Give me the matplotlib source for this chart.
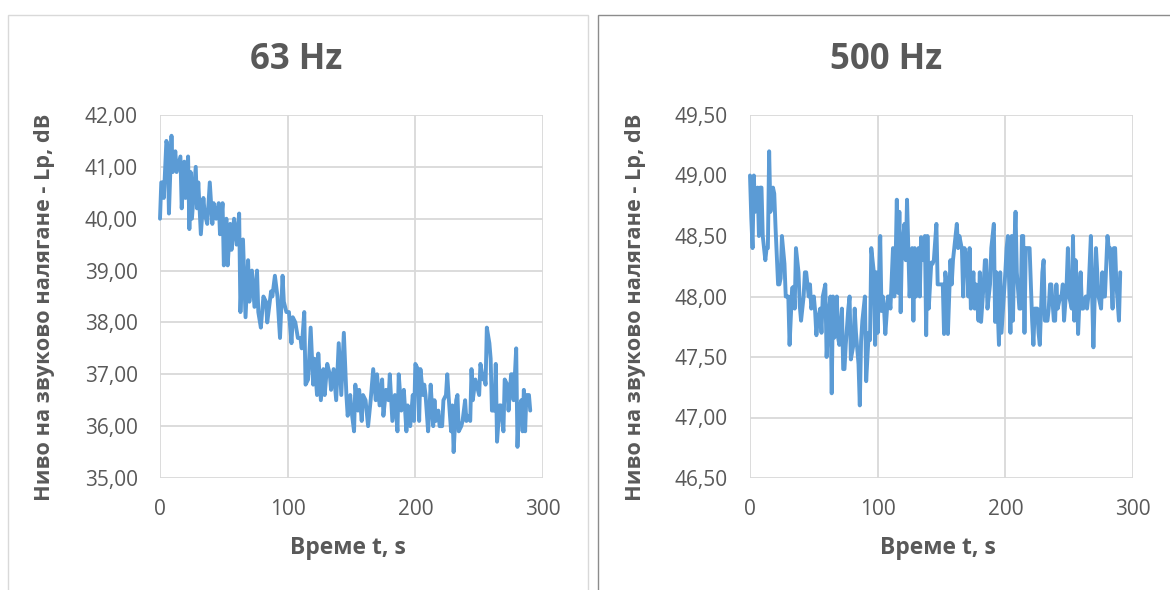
import matplotlib
matplotlib.use("Agg")
import matplotlib.pyplot as plt
from matplotlib.patches import Rectangle
from matplotlib.ticker import FuncFormatter

plt.rcParams['font.family'] = ['Open Sans', 'DejaVu Sans']

# 63 Hz series (time s, level dB)
t_63 = [0, 1, 2, 3, 5, 6, 7, 9, 10, 12, 13, 16, 17, 19, 20, 22, 23, 24, 25, 28,
        29, 30, 32, 34, 35, 37, 39, 41, 42, 44, 46, 47, 49, 50, 52, 53, 55, 56, 58, 60,
        62, 63, 65, 67, 69, 70, 72, 74, 76, 77, 79, 81, 83, 84, 87, 88, 90, 92, 94, 96,
        97, 99, 101, 103, 104, 106, 108, 110, 111, 113, 114, 116, 118, 120, 121, 123, 124, 126, 128, 129,
        131, 133, 134, 136, 138, 140, 142, 144, 146, 147, 149, 150, 152, 153, 155, 156, 158, 159, 161, 163,
        165, 167, 169, 170, 172, 174, 175, 177, 179, 180, 182, 184, 186, 187, 189, 191, 193, 194, 196, 198,
        199, 200, 202, 203, 204, 206, 207, 208, 210, 211, 212, 214, 215, 216, 218, 219, 221, 222, 224, 225,
        226, 228, 229, 230, 232, 233, 234, 236, 237, 239, 240, 241, 243, 244, 245, 247, 248, 250, 251, 253,
        254, 255, 256, 258, 259, 260, 262, 263, 264, 266, 267, 269, 270, 272, 273, 275, 276, 277, 279, 280,
        281, 283, 284, 285, 286, 287, 289, 290]
lp_63 = [40.0, 40.7, 40.7, 40.4, 41.5, 41.4, 40.1, 41.6, 40.9, 41.3, 40.9, 41.2, 40.2, 41.1, 40.4, 41.2, 39.8, 40.9, 40.0, 41.0,
         40.2, 40.7, 39.7, 40.4, 40.1, 39.9, 40.7, 39.9, 40.3, 40.0, 40.3, 39.7, 40.3, 39.1, 40.0, 39.1, 39.9, 39.4, 40.0, 39.5,
         40.1, 38.2, 39.6, 38.1, 39.2, 38.4, 39.0, 38.3, 39.0, 38.2, 37.9, 38.5, 38.4, 38.0, 38.6, 38.5, 38.9, 38.5, 37.7, 38.9,
         38.4, 38.2, 38.2, 37.6, 38.1, 38.0, 37.7, 37.7, 37.5, 38.2, 36.8, 36.9, 37.9, 36.8, 37.3, 36.6, 37.4, 36.5, 37.1, 36.6,
         37.2, 37.0, 36.7, 37.1, 36.5, 37.6, 36.6, 37.8, 36.6, 36.2, 36.6, 36.3, 35.9, 36.8, 36.3, 36.7, 36.1, 36.6, 36.5, 36.0,
         36.5, 37.1, 36.5, 37.0, 36.4, 36.9, 36.2, 36.7, 36.5, 37.0, 36.1, 36.6, 35.9, 37.0, 36.3, 36.7, 35.9, 36.4, 36.0, 36.6,
         36.1, 37.2, 37.1, 36.1, 37.1, 36.6, 36.8, 36.6, 35.9, 36.3, 36.8, 36.0, 36.5, 36.1, 36.3, 36.0, 36.0, 36.5, 36.6, 37.0,
         36.6, 35.9, 36.4, 35.5, 36.5, 36.6, 35.9, 36.0, 36.1, 36.5, 36.1, 36.2, 36.1, 37.1, 36.5, 36.9, 36.8, 36.6, 37.2, 36.9,
         37.0, 36.8, 37.9, 37.6, 37.3, 36.3, 36.3, 37.2, 35.7, 36.4, 36.4, 35.9, 36.9, 36.8, 36.3, 37.0, 37.0, 36.5, 37.5, 35.6,
         36.3, 36.5, 35.9, 36.7, 35.9, 36.6, 36.6, 36.3]

# 500 Hz series (time s, level dB)
t_500 = [0, 1, 2, 3, 4, 6, 7, 8, 9, 10, 12, 13, 14, 15, 16, 18, 19, 20, 22, 23,
         24, 25, 27, 28, 30, 31, 33, 34, 35, 36, 38, 39, 40, 42, 43, 44, 46, 47, 48, 50,
         51, 52, 53, 55, 56, 57, 59, 60, 62, 63, 64, 65, 66, 68, 69, 70, 72, 73, 74, 75,
         77, 78, 79, 81, 82, 83, 85, 86, 87, 88, 90, 91, 93, 94, 95, 97, 98, 99, 100, 102,
         103, 104, 105, 106, 108, 109, 110, 112, 113, 114, 115, 116, 117, 118, 119, 121, 122, 123, 124, 125,
         127, 128, 129, 130, 132, 133, 134, 136, 137, 138, 139, 140, 142, 143, 144, 146, 147, 148, 151, 152,
         153, 154, 155, 157, 158, 159, 161, 162, 163, 164, 166, 167, 168, 170, 171, 172, 173, 175, 176, 177,
         179, 180, 181, 183, 184, 185, 186, 188, 189, 191, 192, 193, 195, 196, 197, 200, 201, 202, 204, 205,
         206, 207, 208, 209, 211, 212, 213, 214, 215, 216, 217, 219, 220, 221, 222, 223, 225, 226, 227, 228,
         229, 230, 231, 233, 234, 235, 236, 238, 239, 240, 241, 243, 244, 245, 246, 248, 249, 250, 252, 253,
         254, 255, 256, 257, 259, 260, 261, 263, 264, 265, 267, 268, 269, 271, 272, 273, 275, 276, 277, 278,
         280, 281, 282, 284, 285, 286, 287, 289, 290]
lp_500 = [49.0, 48.65, 48.4, 49.0, 48.7, 48.9, 48.5, 48.9, 48.9, 48.5, 48.3, 48.4, 48.4, 49.2, 48.7, 48.9, 48.85, 48.57, 48.1, 48.1,
          48.15, 48.5, 48.27, 48.0, 48.0, 47.6, 48.07, 48.08, 47.9, 48.4, 48.2, 47.92, 47.8, 48.0, 48.2, 48.2, 48.0, 48.1, 47.9, 48.0,
          47.88, 47.68, 47.8, 47.9, 47.7, 48.0, 48.1, 47.5, 47.9, 48.0, 47.2, 48.0, 47.66, 48.0, 47.66, 47.6, 47.9, 47.4, 47.4, 47.6,
          47.9, 48.0, 47.48, 47.6, 47.9, 47.7, 47.44, 47.1, 47.63, 47.8, 48.0, 47.3, 47.7, 47.64, 48.4, 48.2, 47.6, 48.2, 47.7, 48.5,
          47.88, 48.0, 47.9, 47.69, 48.0, 48.0, 47.9, 48.4, 48.0, 48.27, 48.8, 48.03, 48.7, 47.87, 48.4, 48.6, 48.3, 48.8, 48.4, 48.0,
          48.4, 47.8, 48.4, 48.0, 48.4, 48.0, 48.49, 48.3, 48.5, 47.68, 48.5, 47.9, 48.28, 48.27, 48.3, 48.6, 48.1, 48.1, 48.1, 47.69,
          48.2, 48.1, 47.69, 48.3, 48.1, 48.3, 48.5, 48.6, 48.4, 48.5, 48.39, 48.0, 48.4, 48.3, 48.0, 48.4, 47.9, 48.2, 47.9, 48.1,
          47.8, 48.2, 47.79, 48.1, 48.3, 48.3, 47.9, 48.1, 48.4, 48.6, 47.79, 48.2, 47.6, 48.2, 47.7, 48.2, 48.4, 48.5, 47.7, 48.5,
          47.8, 48.4, 48.7, 48.2, 47.9, 47.9, 48.5, 48.5, 47.7, 48.4, 48.4, 48.4, 48.1, 47.8, 47.6, 47.9, 47.9, 47.7, 47.6, 47.9,
          48.2, 48.3, 47.8, 47.8, 47.9, 48.1, 48.1, 47.8, 47.8, 48.1, 47.9, 48.0, 48.0, 48.1, 47.8, 48.1, 48.4, 48.0, 47.9, 48.5,
          47.8, 48.3, 48.1, 47.69, 48.2, 47.9, 47.9, 48.0, 47.9, 48.0, 48.5, 48.0, 47.58, 48.4, 48.2, 48.0, 47.9, 48.2, 48.0, 48.0,
          48.5, 48.4, 48.4, 47.9, 48.4, 48.4, 48.1, 47.8, 48.2]

titles = ['63 Hz', '500 Hz']
y_ranges = [(35, 42, 1.0), (46.5, 49.5, 0.5)]
x_label = 'Време t, s'
y_label = 'Ниво на звуково налягане - Lp, dB'

LINE = '#5B9BD5'
GRID = '#D9D9D9'
TEXT = '#595959'
W, H = 1170, 590

fig = plt.figure(figsize=(11.7, 5.9), dpi=100)

# chart frames
fig.patches.append(Rectangle((8 / W, -0.1), 580 / W, 1.1 - 15 / H, transform=fig.transFigure,
                             fill=False, edgecolor='#D9D9D9', lw=1.0))
fig.patches.append(Rectangle((598 / W, -0.1), 600 / W, 1.1 - 15 / H, transform=fig.transFigure,
                             fill=False, edgecolor='#8C8C8C', lw=1.0))

fmt = FuncFormatter(lambda v, p: f'{v:.2f}'.replace('.', ','))
panels = [(160, t_63, lp_63), (750, t_500, lp_500)]

for i, (x0, t, lp) in enumerate(panels):
    ax = fig.add_axes([x0 / W, 1 - 478 / H, 383 / W, 363 / H])
    lo, hi, step = y_ranges[i]
    ax.plot(t, lp, color=LINE, lw=2.8, solid_joinstyle='round', solid_capstyle='round',
            zorder=3, clip_on=False)
    ax.set_xlim(0, 300)
    ax.set_ylim(lo, hi)
    ax.set_xticks([0, 100, 200, 300])
    n = int(round((hi - lo) / step))
    ax.set_yticks([lo + k * step for k in range(n + 1)])
    ax.yaxis.set_major_formatter(fmt)
    ax.grid(True, color=GRID, lw=1.3)
    ax.set_axisbelow(True)
    for s in ax.spines.values():
        s.set_visible(False)
    ax.tick_params(length=0, labelsize=15, labelcolor=TEXT)
    ax.tick_params(axis='y', pad=16)
    ax.tick_params(axis='x', pad=15)

    fig.text((x0 + 136) / W, 1 - 60 / H, titles[i], ha='center', va='center', fontsize=25,
             fontweight='bold', color=TEXT)
    fig.text((x0 + 188) / W, 1 - 548 / H, x_label, ha='center', va='center', fontsize=16.5,
             fontweight='bold', color=TEXT)
    fig.text((x0 - 115) / W, 1 - 307 / H, y_label, ha='center', va='center', rotation=90,
             fontsize=15.7, fontweight='bold', color=TEXT)

fig.savefig('out.png', dpi=100)
